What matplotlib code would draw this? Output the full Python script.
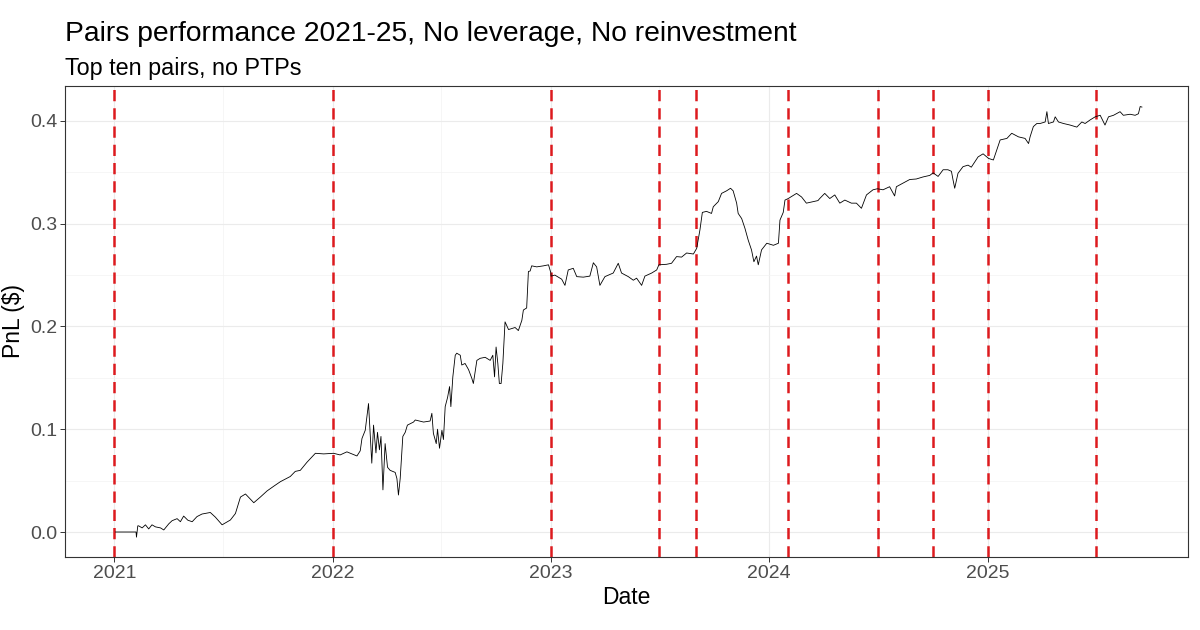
import numpy as np
import pandas as pd
import matplotlib
matplotlib.use("Agg")
import matplotlib.pyplot as plt
import matplotlib.dates as mdates

plt.rcParams['font.family'] = ['Liberation Sans', 'DejaVu Sans']

# PnL curve (date as decimal year, PnL in $)
year_frac = [
    2021.005, 2021.099, 2021.101, 2021.107, 2021.111, 2021.127, 2021.142, 2021.157,
    2021.172, 2021.188, 2021.211, 2021.226, 2021.249, 2021.264, 2021.287, 2021.302,
    2021.317, 2021.336, 2021.356, 2021.378, 2021.401, 2021.439, 2021.462, 2021.493,
    2021.531, 2021.554, 2021.577, 2021.600, 2021.638, 2021.668, 2021.699, 2021.729,
    2021.760, 2021.805, 2021.828, 2021.851, 2021.882, 2021.920, 2021.958, 2022.004,
    2022.034, 2022.065, 2022.111, 2022.126,
    2022.134, 2022.149, 2022.164, 2022.179, 2022.187, 2022.198, 2022.205, 2022.214,
    2022.221, 2022.230, 2022.240, 2022.251, 2022.263, 2022.286, 2022.294, 2022.301,
    2022.309, 2022.321, 2022.332, 2022.342, 2022.370, 2022.378, 2022.416, 2022.446,
    2022.454, 2022.461, 2022.474, 2022.480, 2022.489, 2022.500, 2022.507, 2022.515,
    2022.526, 2022.535, 2022.541, 2022.550, 2022.561, 2022.568, 2022.584, 2022.591,
    2022.606, 2022.622, 2022.637, 2022.644, 2022.660, 2022.675, 2022.698, 2022.721,
    2022.733, 2022.741, 2022.748, 2022.756, 2022.763, 2022.771, 2022.779, 2022.789,
    2022.805, 2022.820, 2022.835, 2022.850, 2022.866, 2022.873, 2022.888, 2022.896,
    2022.904, 2022.911, 2022.934, 2022.965, 2022.988, 2022.999,
    2023.000, 2023.018, 2023.034, 2023.049, 2023.064, 2023.079, 2023.102, 2023.118,
    2023.148, 2023.178, 2023.194, 2023.209, 2023.224, 2023.247, 2023.285, 2023.308,
    2023.323, 2023.354, 2023.377, 2023.392, 2023.415, 2023.430, 2023.461, 2023.484,
    2023.494, 2023.529, 2023.552, 2023.575, 2023.598, 2023.621, 2023.652, 2023.667,
    2023.682, 2023.693, 2023.712, 2023.735, 2023.743, 2023.766, 2023.781, 2023.804,
    2023.822, 2023.834, 2023.850, 2023.857, 2023.873, 2023.888, 2023.903, 2023.918,
    2023.929, 2023.941, 2023.949, 2023.964, 2023.988, 2024.019, 2024.042, 2024.049,
    2024.064, 2024.072, 2024.087, 2024.125, 2024.148, 2024.170, 2024.201, 2024.223,
    2024.231, 2024.254, 2024.277, 2024.300, 2024.323, 2024.346, 2024.376, 2024.399,
    2024.422, 2024.445, 2024.475, 2024.495, 2024.521, 2024.551, 2024.574, 2024.582,
    2024.612, 2024.643, 2024.673, 2024.704, 2024.735, 2024.750, 2024.773, 2024.796,
    2024.818, 2024.834, 2024.841, 2024.849, 2024.864, 2024.887, 2024.910, 2024.925,
    2024.956, 2024.979, 2025.002, 2025.024, 2025.040, 2025.055, 2025.086, 2025.108,
    2025.139, 2025.169, 2025.185, 2025.192, 2025.207, 2025.223, 2025.238, 2025.261,
    2025.269, 2025.276, 2025.299, 2025.307, 2025.322, 2025.345, 2025.375, 2025.406,
    2025.429, 2025.444, 2025.467, 2025.490, 2025.513, 2025.535, 2025.551, 2025.574,
    2025.604, 2025.619, 2025.650, 2025.673, 2025.688, 2025.696, 2025.704,
]
pnl = [
    0.0, 0.0, -0.005, 0.006, 0.006, 0.004, 0.007, 0.003,
    0.007, 0.005, 0.004, 0.002, 0.008, 0.011, 0.013, 0.010,
    0.0155, 0.0115, 0.010, 0.015, 0.0175, 0.019, 0.0145, 0.007,
    0.0117, 0.018, 0.034, 0.037, 0.0285, 0.034, 0.040, 0.0445,
    0.049, 0.054, 0.059, 0.060, 0.068, 0.0766, 0.076, 0.0766,
    0.075, 0.078, 0.074, 0.079,
    0.091, 0.099, 0.125, 0.067, 0.104, 0.077, 0.097, 0.080,
    0.093, 0.041, 0.086, 0.063, 0.060, 0.058, 0.052, 0.036,
    0.052, 0.093, 0.097, 0.104, 0.107, 0.109, 0.107, 0.108,
    0.1155, 0.096, 0.086, 0.100, 0.0815, 0.099, 0.090, 0.122,
    0.131, 0.1415, 0.122, 0.151, 0.172, 0.174, 0.172, 0.1625,
    0.164, 0.158, 0.1495, 0.1445, 0.167, 0.169, 0.170, 0.167,
    0.172, 0.151, 0.180, 0.164, 0.1445, 0.1445, 0.164, 0.2045,
    0.197, 0.198, 0.199, 0.196, 0.206, 0.216, 0.218, 0.2535,
    0.254, 0.259, 0.258, 0.259, 0.260, 0.252,
    0.249, 0.250, 0.248, 0.246, 0.240, 0.255, 0.2566, 0.2485,
    0.248, 0.249, 0.262, 0.258, 0.240, 0.2485, 0.252, 0.2615,
    0.252, 0.2485, 0.245, 0.247, 0.240, 0.249, 0.252, 0.255,
    0.260, 0.2605, 0.2615, 0.268, 0.2675, 0.2715, 0.2705, 0.276,
    0.294, 0.311, 0.312, 0.310, 0.3165, 0.3215, 0.3295, 0.332,
    0.3345, 0.332, 0.320, 0.310, 0.305, 0.2955, 0.284, 0.2745,
    0.263, 0.2685, 0.260, 0.2745, 0.281, 0.279, 0.281, 0.3035,
    0.311, 0.323, 0.3245, 0.3295, 0.326, 0.320, 0.3215, 0.3225,
    0.3245, 0.3295, 0.3245, 0.328, 0.320, 0.323, 0.320, 0.320,
    0.315, 0.328, 0.333, 0.334, 0.333, 0.336, 0.327, 0.336,
    0.3395, 0.343, 0.3435, 0.3455, 0.347, 0.3495, 0.346, 0.3525,
    0.3525, 0.351, 0.343, 0.3345, 0.349, 0.3555, 0.357, 0.355,
    0.365, 0.368, 0.3635, 0.362, 0.372, 0.3815, 0.383, 0.388,
    0.3845, 0.383, 0.378, 0.3845, 0.3945, 0.3975, 0.3975, 0.399,
    0.409, 0.3975, 0.399, 0.404, 0.399, 0.3975, 0.396, 0.394,
    0.399, 0.3975, 0.401, 0.404, 0.4055, 0.396, 0.404, 0.4055,
    0.409, 0.4055, 0.4065, 0.4055, 0.407, 0.414, 0.4135,
]

# dates of the red dashed markers
marker_dates = ['2021-01-01', '2022-01-01', '2023-01-01', '2023-07-01', '2023-09-01',
                '2024-02-01', '2024-07-01', '2024-10-01', '2025-01-01', '2025-07-01']


def frac_to_date(y):
    yr = int(y)
    return pd.Timestamp(yr, 1, 1) + pd.Timedelta(days=(y - yr) * 365.25)


dates = [frac_to_date(y) for y in year_frac]

fig = plt.figure(figsize=(12, 6.3), dpi=100)
ax = fig.add_axes([0.0542, 0.1159, 0.9358, 0.7476])

for d in marker_dates:
    ax.axvline(pd.Timestamp(d), color='#DD1A1E', lw=1.8, linestyle=(0, (4.5, 2.8)), zorder=2)

ax.plot(dates, pnl, color='black', lw=0.6, zorder=3)

ax.set_xlim(frac_to_date(2020.776), frac_to_date(2025.915))
ax.set_ylim(-0.0243, 0.434)

ax.xaxis.set_major_locator(mdates.YearLocator())
ax.xaxis.set_major_formatter(mdates.DateFormatter('%Y'))
ax.xaxis.set_minor_locator(mdates.MonthLocator(bymonth=7))
ax.set_yticks([0.0, 0.1, 0.2, 0.3, 0.4])
ax.set_yticklabels(['0.0', '0.1', '0.2', '0.3', '0.4'])
ax.set_yticks([0.05, 0.15, 0.25, 0.35], minor=True)

ax.grid(True, which='major', color='#EBEBEB', lw=0.8, zorder=0)
ax.grid(True, which='minor', color='#F3F3F3', lw=0.5, zorder=0)
ax.set_axisbelow(True)
ax.tick_params(which='major', colors='#333333', labelcolor='#4D4D4D', labelsize=14,
               length=3.5, width=0.7, pad=2)
ax.tick_params(which='minor', length=0)
for s in ax.spines.values():
    s.set_color('#333333')
    s.set_linewidth(0.8)

ax.set_xlabel('Date', fontsize=16.5, color='black', labelpad=3)
ax.set_ylabel('PnL ($)', fontsize=16.5, color='black', labelpad=4)

fig.text(0.0542, 1 - 34 / 630, 'Pairs performance 2021-25, No leverage, No reinvestment',
         fontsize=20.3, va='center', ha='left')
fig.text(0.0542, 1 - 69 / 630, 'Top ten pairs, no PTPs', fontsize=16.8, va='center', ha='left')

fig.savefig('out.png', dpi=100)
